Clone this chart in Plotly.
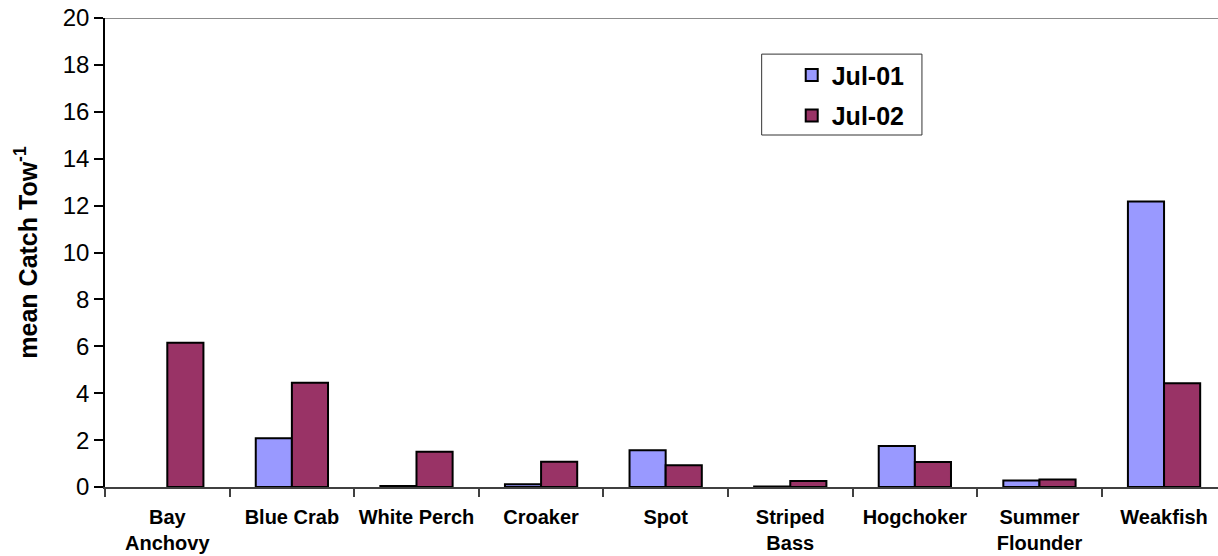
import plotly.graph_objects as go

# Mean catch per tow by species, July 2001 vs July 2002
species = ["Bay<br>Anchovy", "Blue Crab", "White Perch", "Croaker", "Spot",
           "Striped<br>Bass", "Hogchoker", "Summer<br>Flounder", "Weakfish"]
jul01 = [None, 2.08, 0.04, 0.12, 1.57, 0.02, 1.75, 0.28, 12.18]
jul02 = [6.15, 4.45, 1.50, 1.08, 0.93, 0.26, 1.07, 0.32, 4.42]

y_ticks = [0, 2, 4, 6, 8, 10, 12, 14, 16, 18, 20]

FONT = "Arial, Liberation Sans, sans-serif"

fig = go.Figure()
fig.add_trace(go.Bar(
    x=species, y=jul01, name="<b>Jul-01</b>", legendgroup="a",
    marker=dict(color="#9999FF", line=dict(color="#000000", width=2)),
))
fig.add_trace(go.Bar(
    x=species, y=jul02, name="<b>Jul-02</b>", legendgroup="b",
    marker=dict(color="#993366", line=dict(color="#000000", width=2)),
))

fig.update_layout(
    width=1218, height=556,
    margin=dict(l=105, r=0, t=18, b=69),
    paper_bgcolor="white", plot_bgcolor="white",
    barmode="group", bargap=0.42, bargroupgap=0,
    font=dict(family=FONT, color="#000000"),
    showlegend=True,
    legend=dict(
        x=0.617, y=0.927, xanchor="left", yanchor="top",
        bgcolor="rgba(0,0,0,0)", borderwidth=0,
        font=dict(family=FONT, size=25, color="#000000"),
        traceorder="grouped", tracegroupgap=5,
    ),
    xaxis=dict(
        type="category",
        range=[-0.5, 8.433],
        tickvals=species,
        ticktext=["<b>" + s + "</b>" for s in species],
        tickangle=0, automargin=False,
        showline=True, linecolor="#404040", linewidth=1.5,
        ticks="outside", tickson="boundaries", ticklen=8,
        tickcolor="#404040", tickwidth=1.5,
        tickfont=dict(family=FONT, size=20, color="#000000"),
        ticklabelstandoff=11,
        showgrid=False, zeroline=False,
    ),
    yaxis=dict(
        range=[0, 20],
        tickvals=y_ticks,
        ticksuffix="\u00a0\u00a0",
        showline=True, linecolor="#000000", linewidth=1.5,
        ticks="outside", ticklen=9, tickcolor="#000000", tickwidth=1.5,
        tickfont=dict(family=FONT, size=24, color="#000000"),
        showgrid=False, zeroline=False,
        title=dict(text="<b>mean Catch Tow<sup>-1</sup></b>",
                   font=dict(family=FONT, size=25, color="#000000"),
                   standoff=18),
    ),
    shapes=[
        # top border line of the plotting area
        dict(type="line", xref="paper", yref="y", x0=0, x1=1, y0=20, y1=20,
             line=dict(color="#8c8c8c", width=2)),
        # legend frame
        dict(type="rect", xref="paper", yref="paper",
             x0=0.590, x1=0.734, y0=0.7505, y1=0.923,
             line=dict(color="#333333", width=1), fillcolor="rgba(0,0,0,0)"),
    ],
)

fig.write_html("out.html")
